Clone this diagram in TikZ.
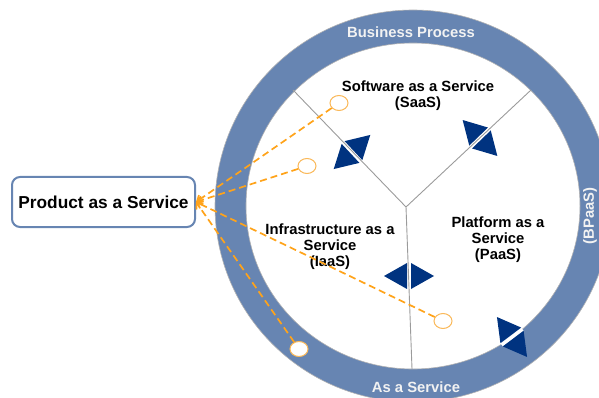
\documentclass[tikz,border=0pt]{standalone}
\usepackage{fontspec}
\setmainfont{Liberation Sans}
\usetikzlibrary{shapes.geometric,arrows.meta}
\definecolor{ringblue}{RGB}{103,133,178}
\definecolor{dmdblue}{RGB}{0,51,128}
\definecolor{dashorange}{RGB}{255,163,26}
\definecolor{circorange}{RGB}{250,185,90}
\definecolor{linegray}{RGB}{155,155,155}
\definecolor{ringtext}{RGB}{242,242,242}
\tikzset{
  lbl/.style={font=\fontsize{14.8}{16}\selectfont\bfseries, align=center, inner sep=0pt},
  ringlbl/.style={lbl, text=ringtext},
  pbox/.style={draw=ringblue, line width=2pt, rounded corners=8pt, fill=white,
    minimum width=183pt, minimum height=50pt, inner sep=0pt,
    font=\fontsize{17.3}{20}\selectfont\bfseries},
  oc/.style={ellipse, draw=circorange, line width=1pt, fill=white,
    minimum width=18pt, minimum height=15pt, inner sep=0pt},
  dl/.style={draw=dashorange, line width=1.7pt, dash pattern=on 7pt off 4pt,
    -{Straight Barb[length=5pt,width=8pt]}},
  grayline/.style={draw=linegray, line width=0.9pt},
  dmd/.pic={
    \fill[white] (-2,-13) rectangle (2,13);
    \fill[dmdblue] (-25,0) -- (-2,-13) -- (-2,13) -- cycle;
    \fill[dmdblue] (25,0) -- (2,-13) -- (2,13) -- cycle;
  }
}
\begin{document}
\begin{tikzpicture}[x=1pt,y=-1pt]
\useasboundingbox (0,0) rectangle (599,398);
\clip (0,0) rectangle (599,398);
% ring
\fill[ringblue, even odd rule] (413,206) ellipse [x radius=198, y radius=196]
  (413,206) ellipse [x radius=167, y radius=163];
\draw[gray!60, line width=0.6pt] (413,206) ellipse [x radius=198, y radius=196];
\draw[gray!60, line width=0.6pt] (413,206) ellipse [x radius=167, y radius=163];
% diamonds
\pic[rotate=43] at (352,152) {dmd};
\pic[rotate=-46] at (480,138) {dmd};
\pic at (409,276) {dmd};
\pic[rotate=-53] at (512,337) {dmd};
% gray lines
\coordinate (J) at (406,207);
\coordinate (A) at (293,90);
\coordinate (B) at (531,90);
\coordinate (Cb) at (412,369);
\draw[grayline] (J) -- (A);
\draw[grayline] (J) -- (B);
\draw[grayline] (J) -- (Cb);
% labels
\node[lbl] (saas) at (418,96) {Software as a Service\\(SaaS)};
\node[lbl] (iaas) at (330,247) {Infrastructure as a\\Service\\(IaaS)};
\node[lbl] (paas) at (498,239.5) {Platform as a\\Service\\(PaaS)};
\node[ringlbl] (bp) at (411,32) {Business Process};
\node[ringlbl] (aas) at (416,387) {As a Service};
\node[ringlbl, rotate=90] (bpaas) at (590,216) {(BPaaS)};
% product box
\node[pbox] (prod) at (103.5,202) {Product as a Service};
% circles
\node[oc] (c1) at (339,103) {};
\node[oc] (c2) at (307,166) {};
\node[oc] (c3) at (443,321) {};
\node[oc] (c4) at (299,349) {};
% dashed connectors
\draw[dl] (c1) -- (prod.east);
\draw[dl] (c2) -- (prod.east);
\draw[dl] (c3) -- (prod.east);
\draw[dl] (c4) -- (prod.east);
\end{tikzpicture}
\end{document}
